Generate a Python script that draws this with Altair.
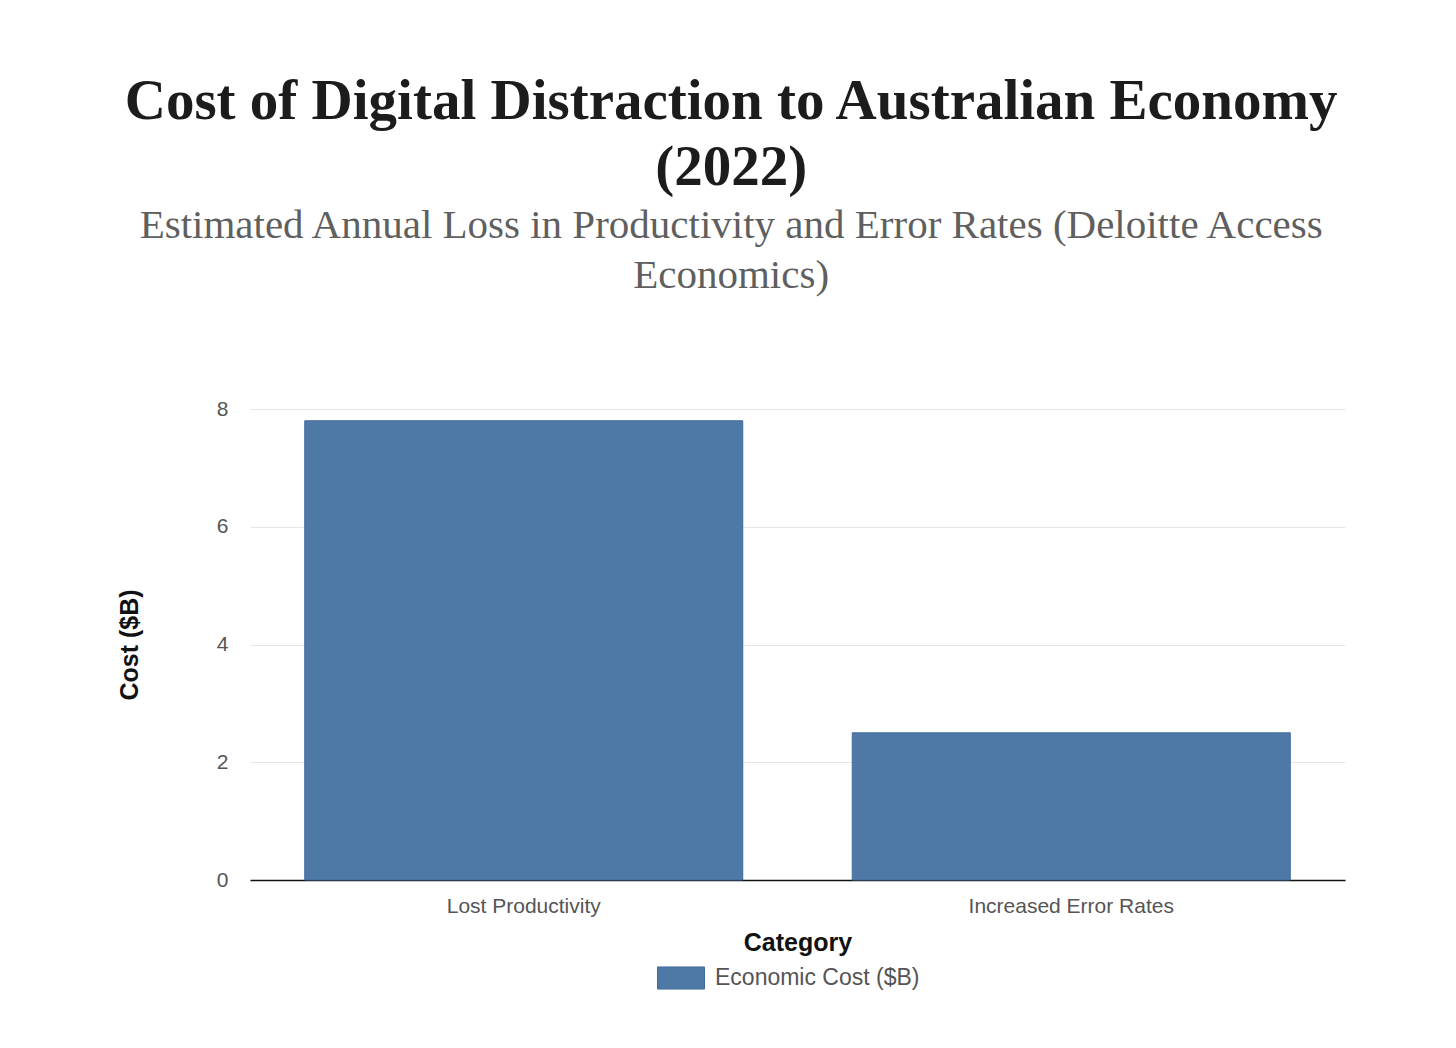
import altair as alt
import pandas as pd

categories = ["Lost Productivity", "Increased Error Rates"]
costs = [7.8, 2.5]
series_name = "Economic Cost ($B)"
title_lines = ["Cost of Digital Distraction to Australian Economy", "(2022)"]
subtitle_lines = [
    "Estimated Annual Loss in Productivity and Error Rates (Deloitte Access",
    "Economics)",
]
y_ticks = [0, 2, 4, 6, 8]

df = pd.DataFrame({
    "Category": categories,
    "Cost": costs,
    "Series": [series_name] * len(categories),
})

SANS = "Liberation Sans"
SERIF = "Liberation Serif"

chart = alt.Chart(df).mark_bar(stroke="#41699a", strokeWidth=1).encode(
    x=alt.X(
        "Category:N", sort=categories, title="Category",
        scale=alt.Scale(paddingInner=0.2, paddingOuter=0.1),
        axis=alt.Axis(
            labelAngle=0, labelFont=SANS, labelFontSize=21, labelColor="#555555",
            labelPadding=15, labelLimit=0, ticks=False, domainColor="#111111",
            domainWidth=1.5, titleFont=SANS, titleFontSize=25, titleFontWeight="bold",
            titleColor="#111111", titlePadding=14, grid=False,
        ),
    ),
    y=alt.Y(
        "Cost:Q", title="Cost ($B)",
        scale=alt.Scale(domain=[0, 8], nice=False),
        axis=alt.Axis(
            values=y_ticks, labelFont=SANS, labelFontSize=21, labelColor="#555555",
            labelPadding=22, ticks=False, domain=False, gridColor="#e6e6e6",
            gridWidth=1, titleFont=SANS, titleFontSize=25, titleFontWeight="bold",
            titleColor="#111111", titlePadding=74,
        ),
    ),
    color=alt.Color(
        "Series:N",
        scale=alt.Scale(range=["#4e79a7"]),
        legend=alt.Legend(
            title=None, orient="none", legendX=407, legendY=545,
            direction="horizontal",
            symbolType="M-1,-0.47L1,-0.47L1,0.47L-1,0.47Z",
            symbolSize=2209, symbolStrokeColor="#41699a", symbolStrokeWidth=1,
            symbolOpacity=1, labelLimit=0,
            labelFont=SANS, labelFontSize=23, labelColor="#555555", labelOffset=10,
        ),
    ),
).properties(
    width=1095,
    height=471,
    background="white",
    title=alt.TitleParams(
        text=title_lines,
        subtitle=subtitle_lines,
        font=SERIF, fontSize=57, fontWeight="bold", color="#1c1c1c",
        lineHeight=66,
        subtitleFont=SERIF, subtitleFontSize=41, subtitleColor="#5f5f5f",
        subtitleLineHeight=50, subtitlePadding=9,
        anchor="middle", frame="bounds", offset=101,
    ),
    padding={"left": 117, "top": 73, "right": 105, "bottom": 40},
).configure_view(strokeWidth=0, stroke=None)

chart.save("out.html", embed_options={"renderer": "svg", "actions": False})
